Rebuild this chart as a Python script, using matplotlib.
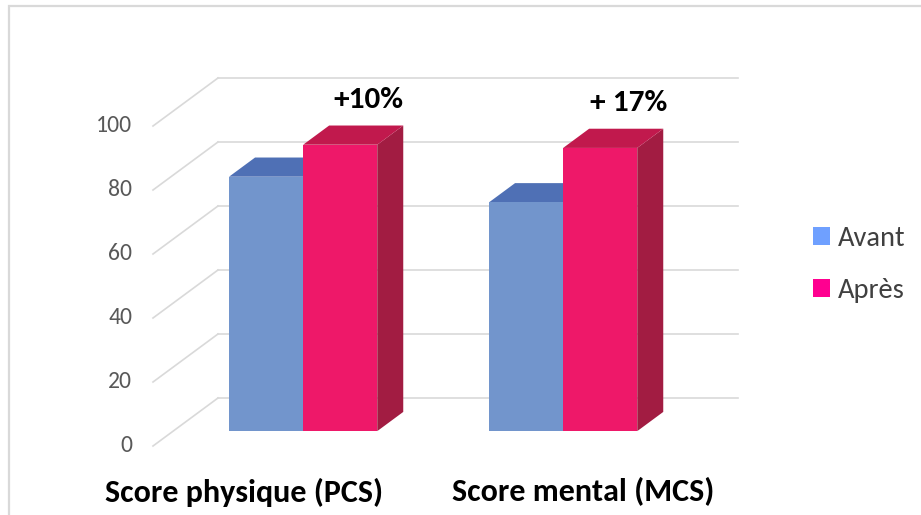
import matplotlib
matplotlib.use("Agg")
import matplotlib.pyplot as plt
from matplotlib.patches import Polygon, Patch, Rectangle

plt.rcParams['font.family'] = ['Carlito', 'Lato', 'DejaVu Sans']

# ---- data ----
categories = ["Score physique (PCS)", "Score mental (MCS)"]
series_names = ["Avant", "Après"]
avant = [79.5, 71.5]
apres = [89.5, 88.5]
annotations = ["+10%", "+ 17%"]
yticks = [0, 20, 40, 60, 80, 100]

# ---- style / layout ----
front_cols = ["#7295CC", "#EE1869"]
top_cols = ["#4F70B5", "#C1194D"]
side_cols = ["#5A7AB8", "#A21C42"]
legend_cols = ["#6FA0FF", "#FF0090"]
grid_col = "#D9D9D9"
DX, DY = 0.25, 15.0          # full depth offset (x in category units, y in value units)
D0, D1 = 0.31, 0.71          # bar depth range (fraction of floor depth)
W = 0.285                    # bar width
cat_label_x = [-0.15, 1.154]

fig = plt.figure(figsize=(9.21, 5.15), dpi=100)
ax = fig.add_axes([0, 0, 1, 1])
ax.set_xlim((0 - 283) / 260, (921 - 283) / 260)
ax.set_ylim((446 - 515) / 3.2, (446 - 0) / 3.2)
ax.axis('off')

# figure border
fig.add_artist(Rectangle((9 / 921, -0.1), 1.2, 1.1 - 6 / 515, transform=fig.transFigure,
                         fill=False, edgecolor=grid_col, lw=1.6))

# walls: back gridlines and left diagonals
x_left, x_right = -0.5, 1.5
for v in yticks:
    ax.plot([x_left + DX, x_right + DX], [v + DY, v + DY], color=grid_col, lw=1.2, zorder=1)
    ax.plot([x_left, x_left + DX], [v, v + DY], color=grid_col, lw=1.2, zorder=1)
    ax.text(x_left - 0.08, v, str(v), ha='right', va='center', fontsize=17, color="#595959")

def bar3d(x0, v, k, z):
    x1 = x0 + W
    fx0, fx1 = x0 + D0 * DX, x1 + D0 * DX
    fy0, fy1 = D0 * DY, v + D0 * DY
    bx0, bx1 = x0 + D1 * DX, x1 + D1 * DX
    by0, by1 = D1 * DY, v + D1 * DY
    ax.add_patch(Polygon([(fx1, fy0), (bx1, by0), (bx1, by1), (fx1, fy1)], closed=True,
                         facecolor=side_cols[k], edgecolor='none', zorder=z))
    ax.add_patch(Polygon([(fx0, fy1), (fx1, fy1), (bx1, by1), (bx0, by1)], closed=True,
                         facecolor=top_cols[k], edgecolor='none', zorder=z))
    ax.add_patch(Polygon([(fx0, fy0), (fx1, fy0), (fx1, fy1), (fx0, fy1)], closed=True,
                         facecolor=front_cols[k], edgecolor='none', zorder=z))

for i, cat in enumerate(categories):
    bar3d(i - W, avant[i], 0, 3)
    bar3d(i, apres[i], 1, 4)
    tx = i + W / 2 + (D0 + D1) / 2 * DX + 0.06
    ty = apres[i] + D1 * DY + 8
    ax.text(tx, ty, annotations[i], ha='center', va='center', fontsize=22.5,
            fontweight='bold', color='black')
    ax.text(cat_label_x[i], (446 - 492) / 3.2, cat, ha='center', va='center',
            fontsize=23, fontweight='bold', color='black')

handles = [Patch(facecolor=c, edgecolor='none') for c in legend_cols]
fig.legend(handles, series_names, loc='upper left', bbox_to_anchor=(799 / 921, 1 - 212 / 515),
           frameon=False, fontsize=20.5, handlelength=0.6, handleheight=0.6,
           handletextpad=0.25, labelspacing=0.95, borderpad=0, labelcolor="#404040")

fig.savefig("out.png", dpi=100)
